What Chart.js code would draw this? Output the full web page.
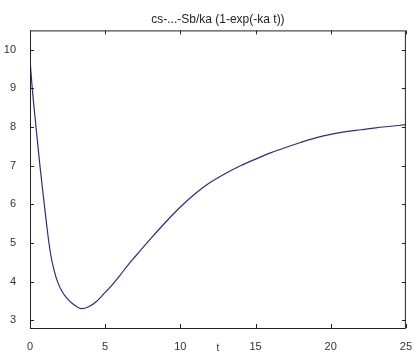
<!DOCTYPE html>
<html>
<head>
<meta charset="utf-8">
<script src="https://cdn.jsdelivr.net/npm/chart.js@4"></script>
<style>
  html, body { margin: 0; padding: 0; background: #fff; }
  #wrap { width: 416px; height: 354px; }
</style>
</head>
<body>
<div id="wrap"><canvas id="myChart"></canvas></div>
<script>
// data
const tValues = [0, 0.15, 0.4, 0.66, 0.95, 1.1, 1.26, 1.4, 1.6, 1.83, 2.1, 2.43, 2.9, 3.42, 3.9, 4.4, 5, 5.5, 6, 6.5, 7, 8, 9, 10, 11, 12, 13, 14, 15, 16, 17, 18, 19, 20, 21, 22, 23, 24, 25];
const cValues = [9.74, 9, 8, 7, 6, 5.5, 5.0, 4.65, 4.3, 4.0, 3.77, 3.58, 3.41, 3.3, 3.35, 3.48, 3.72, 3.93, 4.17, 4.42, 4.65, 5.1, 5.53, 5.93, 6.28, 6.57, 6.8, 7.0, 7.17, 7.33, 7.47, 7.6, 7.72, 7.81, 7.88, 7.93, 7.98, 8.02, 8.06];
const xTicks = [0, 5, 10, 15, 20, 25];
const yTicks = [3, 4, 5, 6, 7, 8, 9, 10];

const points = tValues.map((t, i) => ({ x: t, y: cValues[i] }));

// matlab style box with inward ticks
const boxTicks = {
  id: "boxTicks",
  afterDraw(chart) {
    const { ctx, chartArea: a, scales } = chart;
    const len = 4;
    ctx.save();
    ctx.strokeStyle = "#222";
    ctx.lineWidth = 1;
    ctx.strokeRect(a.left + 0.5, a.top + 0.5, a.right - a.left - 1, a.bottom - a.top);
    ctx.beginPath();
    xTicks.forEach((v) => {
      const x = Math.round(scales.x.getPixelForValue(v)) + 0.5;
      ctx.moveTo(x, a.bottom);
      ctx.lineTo(x, a.bottom - len);
      ctx.moveTo(x, a.top);
      ctx.lineTo(x, a.top + len);
    });
    yTicks.forEach((v) => {
      const y = Math.round(scales.y.getPixelForValue(v)) + 0.5;
      ctx.moveTo(a.left, y);
      ctx.lineTo(a.left + len, y);
      ctx.moveTo(a.right, y);
      ctx.lineTo(a.right - len, y);
    });
    ctx.stroke();
    ctx.restore();
  },
};

const config = {
  type: "line",
  data: {
    datasets: [
      {
        label: "c",
        data: points,
        borderColor: "#2b2b8c",
        borderWidth: 1.2,
        pointRadius: 0,
        cubicInterpolationMode: "monotone",
        fill: false,
      },
    ],
  },
  options: {
    responsive: true,
    maintainAspectRatio: false,
    animation: false,
    layout: { padding: { left: 0, right: 8, top: 0, bottom: 0 } },
    scales: {
      x: {
        type: "linear",
        min: 0,
        max: 25,
        afterBuildTicks: (s) => { s.ticks = xTicks.map((v) => ({ value: v })); },
        afterFit: (s) => { s.height = 26; },
        grid: { display: false },
        border: { display: false },
        ticks: { color: "#333", padding: 4, maxRotation: 0, font: { family: "Liberation Sans", size: 11 } },
        title: { display: true, text: "t", color: "#333", padding: 0, font: { family: "Liberation Sans", size: 10 } },
      },
      y: {
        min: 2.8,
        max: 10.5,
        afterBuildTicks: (s) => { s.ticks = yTicks.map((v) => ({ value: v })); },
        afterFit: (s) => { s.width = 30; },
        grid: { display: false },
        border: { display: false },
        ticks: { color: "#333", padding: 6, font: { family: "Liberation Sans", size: 11 } },
      },
    },
    plugins: {
      legend: { display: false },
      tooltip: { enabled: false },
      title: {
        display: true,
        fullSize: false,
        text: "cs-...-Sb/ka (1-exp(-ka t))",
        color: "#222",
        padding: { top: 12, bottom: 4 },
        font: { family: "Liberation Sans", size: 12, weight: "normal" },
      },
    },
  },
  plugins: [boxTicks],
};

const myChart = new Chart(document.getElementById("myChart"), config);
</script>
</body>
</html>
